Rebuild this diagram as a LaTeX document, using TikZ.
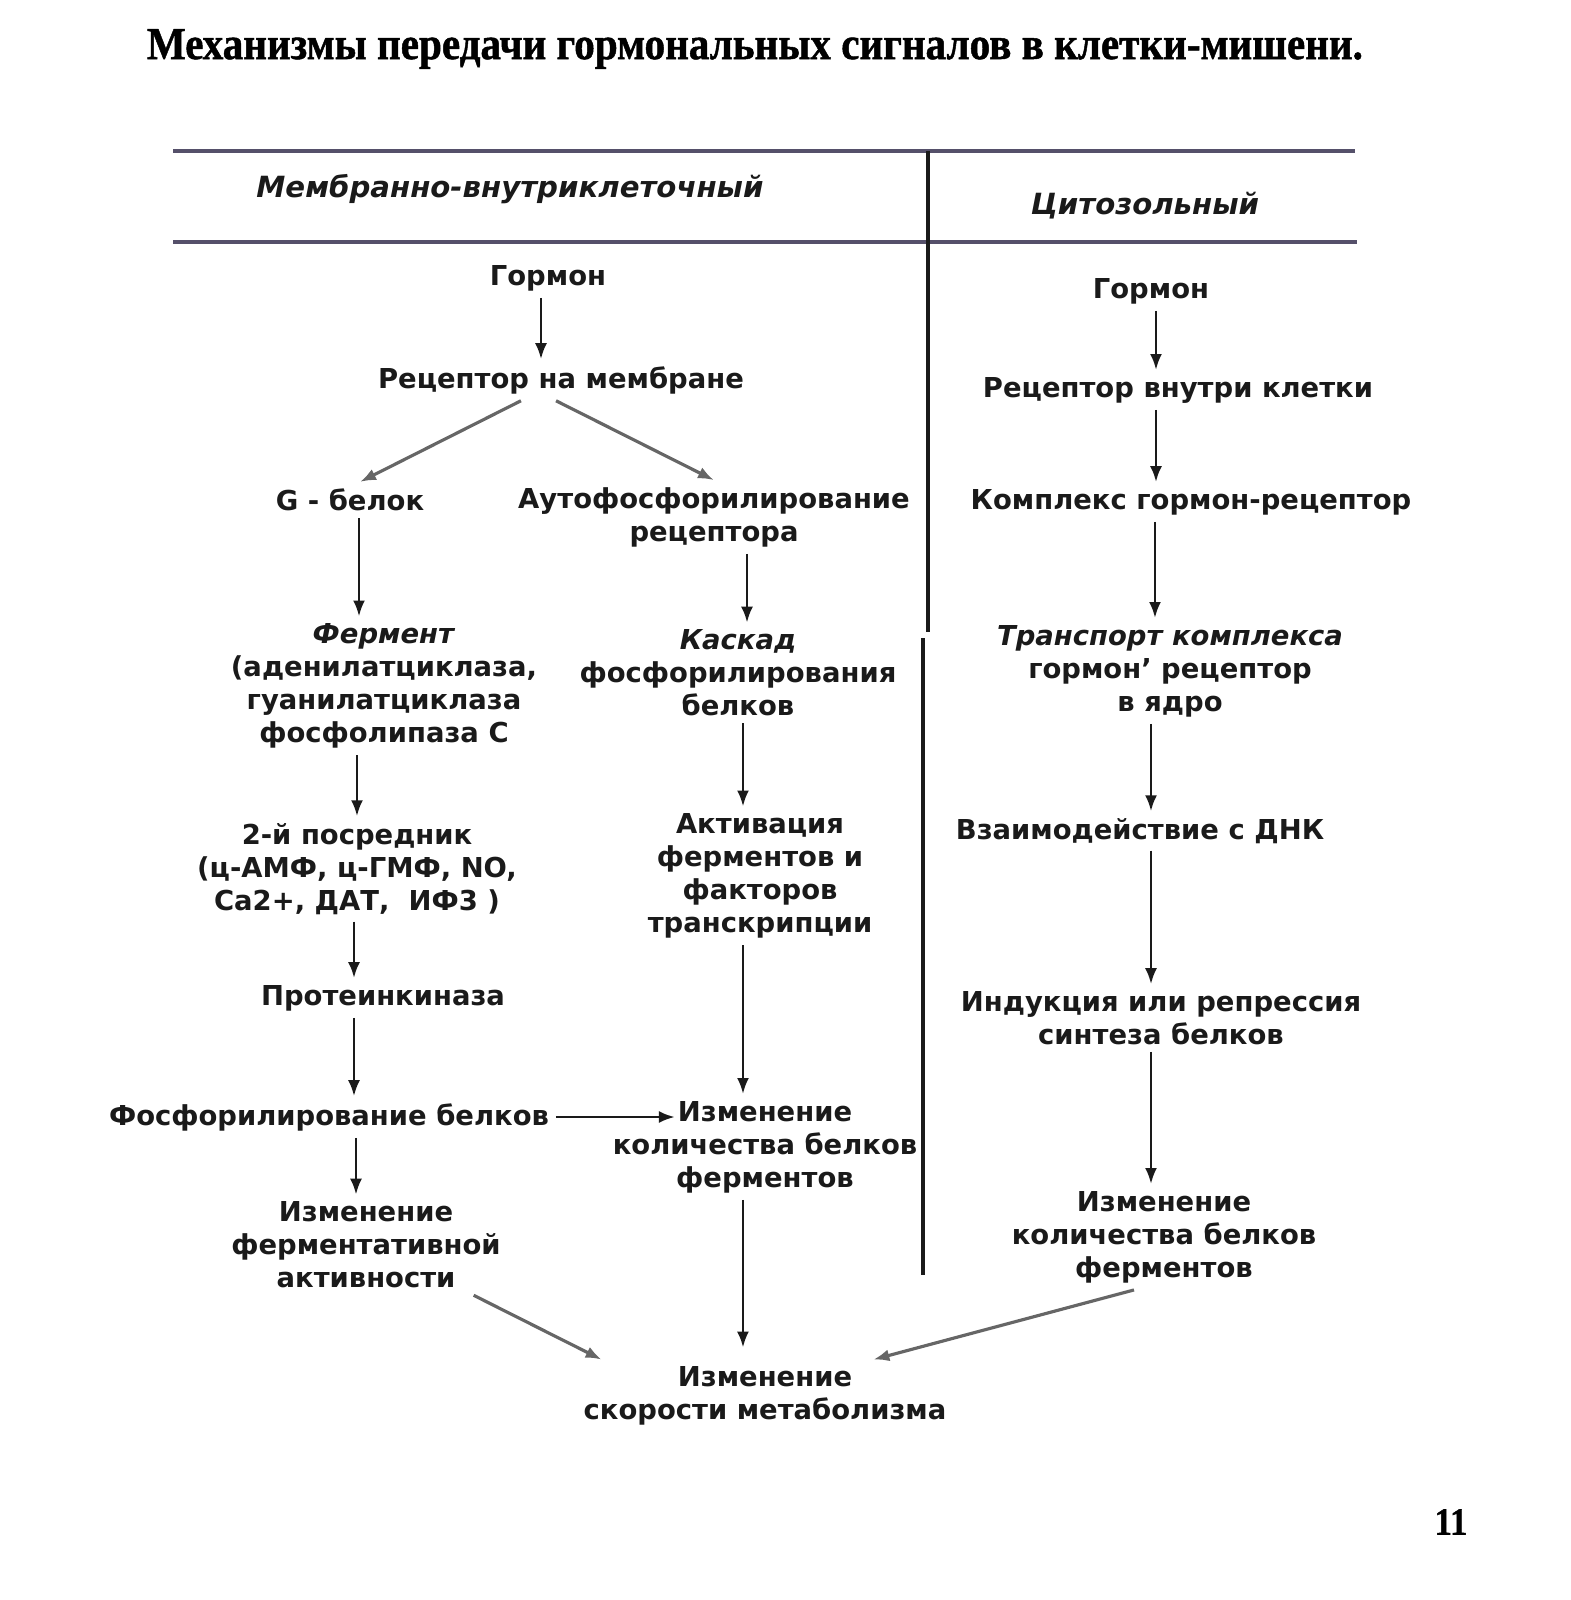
\documentclass[tikz,border=0pt]{standalone}
\usepackage{fontspec}
\setmainfont{DejaVu Sans}
\newfontfamily\titlefont[FakeBold=1, FakeStretch=0.9]{Liberation Serif}
\usetikzlibrary{arrows.meta}
\usetikzlibrary{calc}
\definecolor{ink}{HTML}{1A1A1A}
\definecolor{rulegray}{HTML}{55506A}
\tikzset{
  % One step of the scheme: bold text, no frame
  stage/.style={
    font=\fontsize{7.8}{9.4}\selectfont\bfseries, text=ink,
    align=center, inner sep=0pt, outer sep=2pt},
  % Heading of a column
  colhead/.style={
    font=\fontsize{8.3}{10}\selectfont\bfseries\itshape, text=ink, inner sep=0pt},
  % Connectors
  flow/.style={-{Latex[length=1.6mm,width=1.2mm]}, draw=ink, line width=0.8pt},
  branch/.style={-{Latex[length=1.6mm,width=1.2mm]}, draw=black!60, line width=0.9pt},
  hrule/.style={draw=rulegray, line width=1.1pt},
  divider/.style={draw=ink, line width=1pt},
}
\newcommand{\flowdown}[3]{%
  \draw[flow] ([xshift=#3]#1.south) -- ([xshift=#3]#1.south |- #2.north);}

\begin{document}
\begin{tikzpicture}[x=0.01cm, y=-0.01cm]
  \useasboundingbox (0,0) rectangle (1571,1600);

  \node[font=\titlefont\bfseries\fontsize{13}{15}\selectfont, inner sep=0pt] (title) at (755,49)
    {Механизмы передачи гормональных сигналов в клетки-мишени.};

  \draw[hrule] (173,151) -- (1355,151);
  \draw[hrule] (173,242) -- (1357,242);
  \draw[divider] (928,151) -- (928,632);
  \draw[divider] (923,638) -- (923,1275);

  \node[colhead] (headL) at (510,189) {Мембранно-внутриклеточный};
  \node[colhead] (headR) at (1145,206) {Цитозольный};

  % left column
  \node[stage] (gormL) at (548,278) {Гормон};
  \node[stage] (recL) at (561,380) {Рецептор на мембране};
  \node[stage] (gbelok) at (350,500) {G - белок};
  \node[stage] (auto) at (714,517) {Аутофосфорилирование\\рецептора};
  \node[stage] (fermL) at (384,686)
    {\textit{Фермент}\\(аденилатциклаза,\\гуанилатциклаза\\фосфолипаза С};
  \node[stage] (kaskad) at (738,673) {\textit{Каскад}\\фосфорилирования\\белков};
  \node[stage] (posr) at (357,869) {2-й посредник\\(ц-АМФ, ц-ГМФ, NO,\\Ca2+, ДАТ,\ \ ИФ3 )};
  \node[stage] (aktiv) at (760,876) {Активация\\ферментов и\\факторов\\транскрипции};
  \node[stage] (protk) at (383,998) {Протеинкиназа};
  \node[stage] (fosf) at (329,1117) {Фосфорилирование белков};
  \node[stage] (izmL) at (765,1147) {Изменение\\количества белков\\ферментов};
  \node[stage] (izmF) at (366,1245) {Изменение\\ферментативной\\активности};
  \node[stage] (metab) at (765,1396) {Изменение\\скорости метаболизма};

  % right column
  \node[stage] (gormR) at (1151,291) {Гормон};
  \node[stage] (recR) at (1178,390) {Рецептор внутри клетки};
  \node[stage] (kompl) at (1191,502) {Комплекс гормон-рецептор};
  \node[stage] (transp) at (1170,671) {\textit{Транспорт комплекса}\\гормон' рецептор\\в ядро};
  \node[stage] (vzaim) at (1140,831) {Взаимодействие с ДНК};
  \node[stage] (indukc) at (1161,1018) {Индукция или репрессия\\синтеза белков};
  \node[stage] (izmR) at (1164,1237) {Изменение\\количества белков\\ферментов};

  \flowdown{gormL}{recL}{-0.7mm}
  \draw[branch] ([xshift=-4mm]recL.south) -- ([xshift=1mm]gbelok.north);
  \draw[branch] ([xshift=-0.5mm]recL.south) -- (auto.north);
  \flowdown{gbelok}{fermL}{0.9mm}
  \flowdown{auto}{kaskad}{3.3mm}
  \flowdown{fermL}{posr}{-2.7mm}
  \flowdown{kaskad}{aktiv}{0.5mm}
  \flowdown{posr}{protk}{-0.3mm}
  \flowdown{protk}{fosf}{-2.9mm}
  \flowdown{aktiv}{izmL}{-1.7mm}
  \draw[flow] (fosf.east) -- ([xshift=-9mm]izmL.north |- fosf.east);
  \flowdown{fosf}{izmF}{2.7mm}
  \draw[flow, shorten >=1.2mm] ([xshift=-2.2mm]izmL.south) -- ([xshift=-2.2mm]izmL.south |- metab.north);
  \draw[branch] ([xshift=-3.4mm]izmF.south east) -- ([xshift=2.5mm]metab.north west);
  \draw[branch] ([xshift=-3mm]izmR.south) -- ([xshift=-8mm]metab.north east);

  \flowdown{gormR}{recR}{0.5mm}
  \flowdown{recR}{kompl}{-2.2mm}
  \flowdown{kompl}{transp}{-3.6mm}
  \flowdown{transp}{vzaim}{-1.9mm}
  \flowdown{vzaim}{indukc}{1.1mm}
  \flowdown{indukc}{izmR}{-1mm}

  \node[font=\titlefont\bfseries\fontsize{11}{12}\selectfont, inner sep=0pt] (pagenum) at (1451,1522) {11};

\end{tikzpicture}
\end{document}
